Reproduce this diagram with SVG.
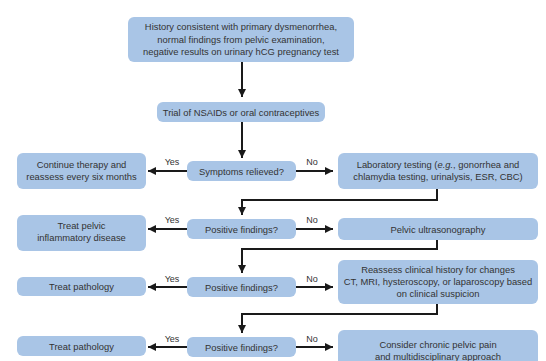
<svg xmlns="http://www.w3.org/2000/svg" width="546" height="361" viewBox="0 0 546 361">
<defs>
<style>
.box{fill:#a9c5e6;}
.t{font-family:"Liberation Sans","Open Sans",Arial,sans-serif;font-size:9.4px;fill:#333;text-anchor:middle;}
.lbl{font-family:"Liberation Sans","Open Sans",Arial,sans-serif;font-size:9px;fill:#333;text-anchor:middle;}
.c{fill:none;stroke:#1a1a1a;stroke-width:2;}
</style>
<marker id="ah" viewBox="0 0 10 10" refX="10" refY="5" markerWidth="5" markerHeight="4" markerUnits="strokeWidth" orient="auto">
<path d="M0,0 L10,5 L0,10 z" fill="#1a1a1a"/>
</marker>
</defs>
<rect width="546" height="361" fill="#fff"/>
<g id="connectors">
<path class="c" d="M242,62 V97" marker-end="url(#ah)"/>
<path class="c" d="M242,122 V158" marker-end="url(#ah)"/>
<path class="c" d="M187,171 H148" marker-end="url(#ah)"/>
<path class="c" d="M296,171 H333" marker-end="url(#ah)"/>
<path class="c" d="M437,189 V200 H242 V215" marker-end="url(#ah)"/>
<path class="c" d="M187,229 H148" marker-end="url(#ah)"/>
<path class="c" d="M296,229 H333" marker-end="url(#ah)"/>
<path class="c" d="M437,240 V249 H242 V273" marker-end="url(#ah)"/>
<path class="c" d="M187,287 H148" marker-end="url(#ah)"/>
<path class="c" d="M296,287 H333" marker-end="url(#ah)"/>
<path class="c" d="M437,304 V314 H242 V333" marker-end="url(#ah)"/>
<path class="c" d="M187,347 H148" marker-end="url(#ah)"/>
<path class="c" d="M296,347 H333" marker-end="url(#ah)"/>
<text class="lbl" x="172" y="165">Yes</text>
<text class="lbl" x="312" y="165">No</text>
<text class="lbl" x="172" y="223">Yes</text>
<text class="lbl" x="312" y="223">No</text>
<text class="lbl" x="172" y="282">Yes</text>
<text class="lbl" x="312" y="282">No</text>
<text class="lbl" x="172" y="342">Yes</text>
<text class="lbl" x="312" y="342">No</text>
</g>
<g id="history">
<rect class="box" x="128" y="17" width="226" height="45" rx="6"/>
<text class="t" x="241" y="30">History consistent with primary dysmenorrhea,</text>
<text class="t" x="241" y="42.5">normal findings from pelvic examination,</text>
<text class="t" x="241" y="55">negative results on urinary hCG pregnancy test</text>
</g>
<g id="trial">
<rect class="box" x="157" y="102" width="168" height="20" rx="6"/>
<text class="t" x="241" y="115.5">Trial of NSAIDs or oral contraceptives</text>
</g>
<g id="symptoms">
<rect class="box" x="187" y="161" width="109" height="20" rx="6"/>
<text class="t" x="241.5" y="174.5">Symptoms relieved?</text>
</g>
<g id="continue">
<rect class="box" x="17" y="153" width="129" height="36" rx="6"/>
<text class="t" x="81.5" y="167.5">Continue therapy and</text>
<text class="t" x="81.5" y="179.5">reassess every six months</text>
</g>
<g id="lab">
<rect class="box" x="338" y="153" width="200" height="36" rx="6"/>
<text class="t" x="438" y="167.5">Laboratory testing (<tspan font-style="italic">e.g.</tspan>, gonorrhea and</text>
<text class="t" x="438" y="179.5">chlamydia testing, urinalysis, ESR, CBC)</text>
</g>
<g id="pf1">
<rect class="box" x="187" y="219" width="109" height="20" rx="6"/>
<text class="t" x="241.5" y="232.5">Positive findings?</text>
</g>
<g id="pid">
<rect class="box" x="17" y="215" width="129" height="36" rx="6"/>
<text class="t" x="81.5" y="229">Treat pelvic</text>
<text class="t" x="81.5" y="241">inflammatory disease</text>
</g>
<g id="pelvic">
<rect class="box" x="338" y="218" width="200" height="22" rx="6"/>
<text class="t" x="438" y="232.5">Pelvic ultrasonography</text>
</g>
<g id="pf2">
<rect class="box" x="187" y="277" width="109" height="20" rx="6"/>
<text class="t" x="241.5" y="290.5">Positive findings?</text>
</g>
<g id="tp1">
<rect class="box" x="17" y="277" width="129" height="19" rx="6"/>
<text class="t" x="81.5" y="290">Treat pathology</text>
</g>
<g id="reassess">
<rect class="box" x="338" y="260" width="200" height="44" rx="6"/>
<text class="t" x="438" y="273">Reassess clinical history for changes</text>
<text class="t" x="438" y="285">CT, MRI, hysteroscopy, or laparoscopy based</text>
<text class="t" x="438" y="297">on clinical suspicion</text>
</g>
<g id="pf3">
<rect class="box" x="187" y="337" width="109" height="20" rx="6"/>
<text class="t" x="241.5" y="350.5">Positive findings?</text>
</g>
<g id="tp2">
<rect class="box" x="17" y="336" width="129" height="20" rx="6"/>
<text class="t" x="81.5" y="349.5">Treat pathology</text>
</g>
<g id="consider">
<rect class="box" x="338" y="330" width="200" height="40" rx="6"/>
<text class="t" x="438" y="348">Consider chronic pelvic pain</text>
<text class="t" x="438" y="360">and multidisciplinary approach</text>
</g>
</svg>
